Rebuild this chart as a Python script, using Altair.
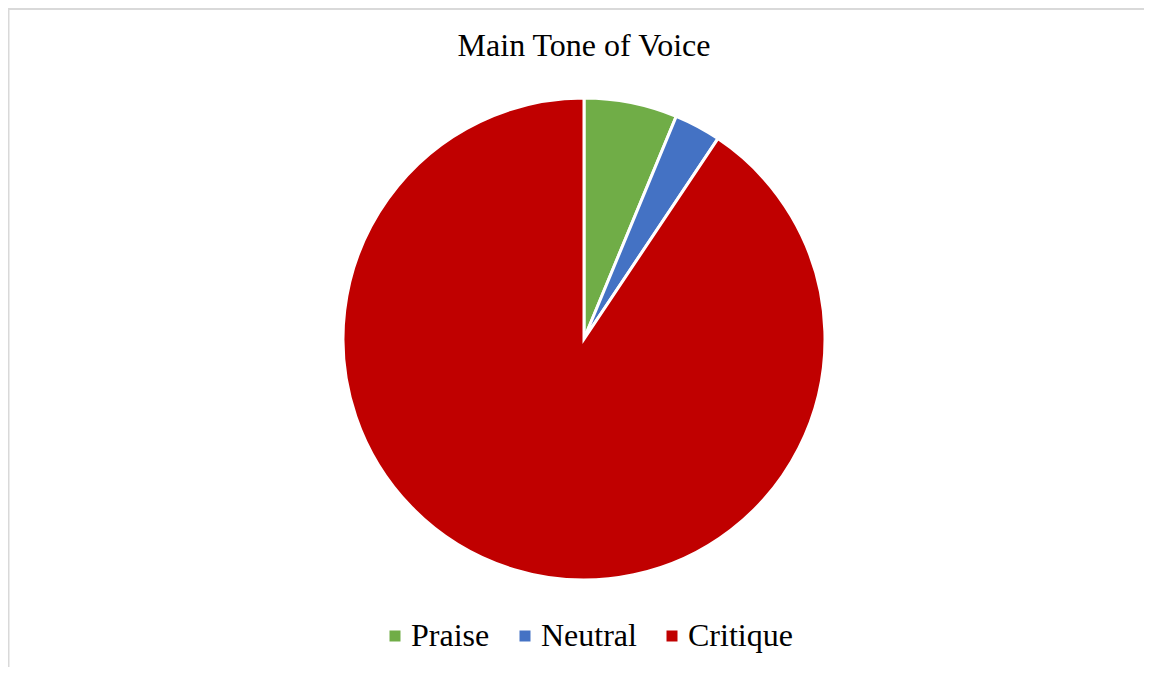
import altair as alt
import pandas as pd

categories = ["Praise", "Neutral", "Critique"]
counts = [2, 1, 29]
colors = ["#70ad47", "#4472c4", "#c00000"]
title_text = "Main Tone of Voice"

df = pd.DataFrame({"tone": categories, "count": counts, "order": [0, 1, 2]})

W, H = 1136, 659
CX, CY, R = 576, 331, 241

one = pd.DataFrame({"t": [title_text]})

frame_top = alt.Chart(one).mark_rule(color="#d9d9d9", strokeWidth=2).encode(
    x=alt.value(0), x2=alt.value(W), y=alt.value(1)
)
frame_left = alt.Chart(one).mark_rule(color="#d9d9d9", strokeWidth=2).encode(
    x=alt.value(0.5), y=alt.value(0), y2=alt.value(H)
)

title = alt.Chart(one).mark_text(
    font="Liberation Serif", fontSize=32, color="#000000",
    align="center", baseline="alphabetic"
).encode(
    text="t:N", x=alt.value(CX), y=alt.value(48)
)

pie = alt.Chart(df).mark_arc(
    outerRadius=R, stroke="white", strokeWidth=3
).encode(
    theta=alt.Theta("count:Q", stack=True),
    order=alt.Order("order:Q"),
    color=alt.Color(
        "tone:N",
        scale=alt.Scale(domain=categories, range=colors),
        sort=categories,
        legend=alt.Legend(
            title=None,
            orient="none",
            legendX=371,
            legendY=612,
            direction="horizontal",
            symbolType="square",
            symbolSize=121,
            symbolStrokeWidth=0,
            labelFont="Liberation Serif",
            labelFontSize=32,
            labelColor="#000000",
            labelOffset=0,
            columnPadding=19,
            padding=0,
        ),
    ),
    x=alt.value(CX),
    y=alt.value(CY),
)

chart = alt.layer(frame_top, frame_left, title, pie).properties(
    width=W,
    height=H,
    autosize=alt.AutoSizeParams(type="none"),
    padding=0,
).configure_view(stroke=None)

chart.save("out.html", embed_options={"renderer": "svg", "actions": False})
